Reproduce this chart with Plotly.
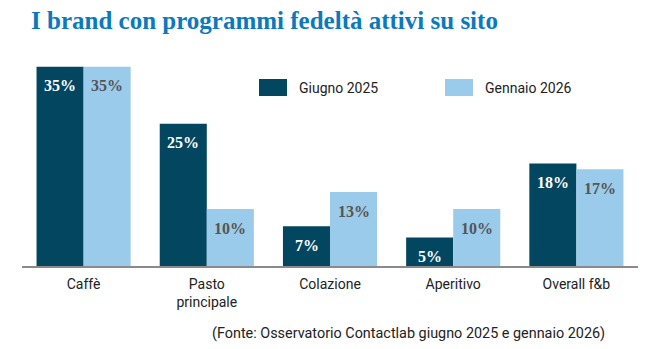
import plotly.graph_objects as go

# Survey data: share of brands with an active loyalty programme on their site
categories = ["Caffè", "Pasto<br>principale", "Colazione", "Aperitivo", "Overall f&b"]
series_names = ["Giugno 2025", "Gennaio 2026"]
giugno_2025 = [35, 25, 7, 5, 18]
gennaio_2026 = [35, 10, 13, 10, 17]

DARK = "#02465F"
LIGHT = "#9BCBEA"
TITLE_BLUE = "#0B79BE"

# Plot area in pixels (left, right, top, bottom)
PL, PR, PT, PB = 22, 638, 60, 266
PW, PH = PR - PL, PB - PT


def px_x(x):
    return (x - PL) / PW


def px_y(y):
    return (PB - y) / PH


fig = go.Figure()
fig.add_trace(go.Bar(x=categories, y=giugno_2025, name=series_names[0],
                     marker=dict(color=DARK, line=dict(width=0)), showlegend=False))
fig.add_trace(go.Bar(x=categories, y=gennaio_2026, name=series_names[1],
                     marker=dict(color=LIGHT, line=dict(width=0)), showlegend=False))

# Value labels inside the top of each bar
annotations = []
for vals, shift, col in [(giugno_2025, -23.5, "white"), (gennaio_2026, 23.5, "#555555")]:
    for cat, v in zip(categories, vals):
        annotations.append(dict(
            x=cat, y=v, xref="x", yref="y", text=f"{v}%", showarrow=False,
            xshift=shift, yshift=-19, yanchor="middle",
            font=dict(family="Liberation Serif", size=16, color=col, weight="bold"),
        ))

# Legend drawn as swatches with labels
legend_items = [(series_names[0], DARK, 259), (series_names[1], LIGHT, 445)]
shapes = []
for name, col, x0 in legend_items:
    shapes.append(dict(type="rect", xref="paper", yref="paper",
                       x0=px_x(x0), x1=px_x(x0 + 28),
                       y0=px_y(96), y1=px_y(79),
                       fillcolor=col, line=dict(width=0)))
    annotations.append(dict(
        x=px_x(x0 + 38), y=px_y(87.5), xref="paper", yref="paper",
        text=name, showarrow=False, xanchor="left", yanchor="middle",
        font=dict(family="Roboto", size=14, color="#222222"),
    ))

# Source note
annotations.append(dict(
    x=px_x(607), y=px_y(333), xref="paper", yref="paper",
    text="(Fonte: Osservatorio Contactlab giugno 2025 e gennaio 2026)",
    showarrow=False, xanchor="right", yanchor="middle",
    font=dict(family="Roboto", size=14.4, color="#222222"),
))

fig.update_layout(
    width=656, height=349,
    margin=dict(l=PL, r=656 - PR, t=PT, b=349 - PB),
    paper_bgcolor="white", plot_bgcolor="white",
    barmode="group", bargap=0.236, bargroupgap=0,
    title=dict(text="<b>I brand con programmi fedeltà attivi su sito</b>",
               x=31 / 656, xanchor="left", y=1 - 20 / 349, yanchor="middle",
               font=dict(family="Liberation Serif", size=25, color=TITLE_BLUE)),
    xaxis=dict(showline=True, linecolor="#8a8a8a", linewidth=1.5, ticks="",
               showgrid=False, ticklabelstandoff=4,
               tickfont=dict(family="Roboto", size=14, color="#222222")),
    yaxis=dict(range=[0, 36.2], visible=False, showgrid=False),
    annotations=annotations,
    shapes=shapes,
)

fig.write_html("out.html")
